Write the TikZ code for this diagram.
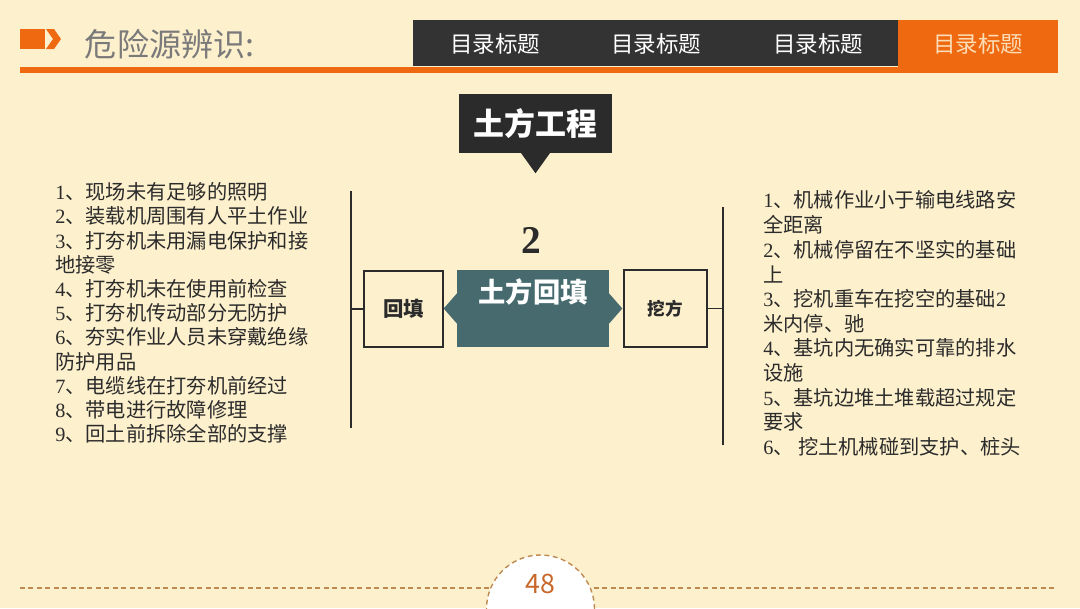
\documentclass[tikz,border=0pt]{standalone}
\usepackage{fontspec}
\setmainfont{Liberation Serif}
\newfontfamily\cjk{Noto Sans CJK SC}
\usetikzlibrary{positioning,calc}
\definecolor{bg}{HTML}{FDF0CD}
\definecolor{brand}{HTML}{EE690F}
\definecolor{bar}{HTML}{333333}
\definecolor{slate}{HTML}{466A6E}
\definecolor{ink}{HTML}{2B2B2B}
\definecolor{dashc}{HTML}{BF8A52}
\definecolor{pagenum}{HTML}{C8682A}
\definecolor{peach}{HTML}{FCDDB8}
\newcommand\nm[1]{{\rmfamily #1}}

\begin{document}
\begin{tikzpicture}[x=0.025cm, y=-0.025cm,
  tab/.style={text=white, font=\cjk\fontsize{16}{18}\selectfont},
  item/.style={anchor=west, inner sep=0pt, text=ink, font=\cjk\fontsize{14.4}{17}\selectfont},
  sidebox/.style={draw=ink, line width=0.9pt, fill=bg, text=ink, inner sep=0pt},
  link/.style={draw=ink, line width=0.9pt},
  pagedash/.style={draw=dashc, line width=1pt, dash pattern=on 3.5pt off 2.5pt}]
  \useasboundingbox (0,0) rectangle (1080,608);
  \fill[bg] (0,0) rectangle (1080,608);
  % header
  \fill[brand] (20,29) rectangle (45,49);
  \fill[brand] (46,29) -- (54,29) -- (61,39) -- (54,49) -- (46,49) -- (53,39) -- cycle;
  \node[anchor=west, text=black!52, font=\cjk\fontsize{22.8}{25}\selectfont] (title) at (80,44) {危险源辨识:};
  \fill[brand] (20,67) rectangle (1058,73);
  \fill[bar] (413,20) rectangle (898,66);
  \fill[brand] (898,20) rectangle (1058,73);
  \foreach \x [count=\i] in {495,656,818} \node[tab] (tab\i) at (\x,44) {目录标题};
  \node[tab, text=peach] (tab4) at (978,44) {目录标题};
  % callout and centre
  \node[fill=ink, text=white, font=\cjk\bfseries\fontsize{22}{24}\selectfont, minimum width=3.825cm, minimum height=1.475cm] (work) at (535.5,123.5) {土方工程};
  \fill[ink] (work.south) ++(-15,-1) -- ++(30,0) -- ++(-15,21) -- cycle;
  \node[text=ink, font=\bfseries\fontsize{28}{30}\selectfont] (num) at (531,240) {2};
  \node[fill=slate, minimum width=3.8cm, minimum height=1.925cm] (core) at (533,308.5) {};
  \fill[slate] (core.west) ++(1,-16) -- ++(-14,16) -- ++(14,16) -- cycle;
  \fill[slate] (core.east) ++(-1,-16) -- ++(14,16) -- ++(-14,16) -- cycle;
  \node[text=white, font=\cjk\bfseries\fontsize{19.4}{21}\selectfont] (coretext) at (533,292) {土方回填};
  \node[sidebox, minimum width=1.975cm, minimum height=1.9cm, font=\cjk\bfseries\fontsize{14.5}{16}\selectfont] (backfill) at (403.5,309) {回填};
  \node[sidebox, minimum width=2.075cm, minimum height=1.925cm, font=\cjk\bfseries\fontsize{12.5}{14}\selectfont] (dig) at (665.5,308.5) {挖方};
  % brackets
  \coordinate (ltop) at (351,191); \coordinate (lbot) at (351,428);
  \coordinate (rtop) at (723,207); \coordinate (rbot) at (723,445);
  \draw[link] (ltop) -- (lbot);
  \draw[link] (backfill.west) -- (backfill.west -| ltop);
  \draw[link] (rtop) -- (rbot);
  \draw[link] (dig.east) -- (dig.east -| rtop);
  % hazard lists
  \foreach \t [count=\i] in {\nm{1}、现场未有足够的照明, \nm{2}、装载机周围有人平土作业,
      \nm{3}、打夯机未用漏电保护和接, 地接零, \nm{4}、打夯机未在使用前检查,
      \nm{5}、打夯机传动部分无防护, \nm{6}、夯实作业人员未穿戴绝缘, 防护用品,
      \nm{7}、电缆线在打夯机前经过, \nm{8}、带电进行故障修理, \nm{9}、回土前拆除全部的支撑}
    \node[item] (l\i) at (55,{192+24.2*(\i-1)}) {\t};
  \foreach \t [count=\i] in {\nm{1}、机械作业小于输电线路安, 全距离, \nm{2}、机械停留在不坚实的基础, 上,
      \nm{3}、挖机重车在挖空的基础\nm{2}, 米内停、驰, \nm{4}、基坑内无确实可靠的排水, 设施,
      \nm{5}、基坑边堆土堆载超过规定, 要求, \nm{6}、 挖土机械碰到支护、桩头}
    \node[item] (r\i) at (763,{200+24.7*(\i-1)}) {\t};
  % footer
  \coordinate (dl) at (20,588); \coordinate (dr) at (1057,588);
  \draw[pagedash] (dl) -- (dr);
  \node[circle, pagedash, fill=white, minimum size=2.7cm] (page) at (540.5,609) {};
  \node[text=pagenum, font=\cjk\fontsize{19}{21}\selectfont] (pageno) at (540,584) {48};
\end{tikzpicture}
\end{document}
